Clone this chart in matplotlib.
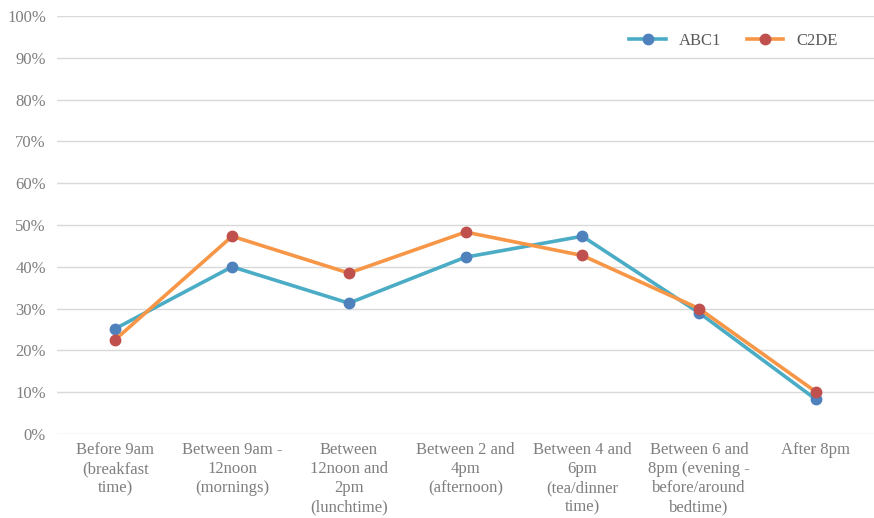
import matplotlib.pyplot as plt
from matplotlib.ticker import PercentFormatter

categories = [
    "Before 9am\n(breakfast\ntime)",
    "Between 9am -\n12noon\n(mornings)",
    "Between\n12noon and\n2pm\n(lunchtime)",
    "Between 2 and\n4pm\n(afternoon)",
    "Between 4 and\n6pm\n(tea/dinner\ntime)",
    "Between 6 and\n8pm (evening -\nbefore/around\nbedtime)",
    "After 8pm",
]
abc1 = [25.2, 40.0, 31.3, 42.3, 47.3, 29.0, 8.3]
c2de = [22.6, 47.3, 38.5, 48.3, 42.7, 30.0, 10.1]

plt.rcParams['font.family'] = ['Liberation Serif', 'DejaVu Serif']

fig = plt.figure(figsize=(8.74, 5.18), dpi=100)
ax = fig.add_axes([0.0652, 0.1622, 0.935, 0.807])

x = list(range(len(categories)))
ax.plot(x, abc1, color='#4BACC6', linewidth=2.6, marker='o', markersize=7.5,
        markerfacecolor='#4F81BD', markeredgecolor='#4F81BD', label='ABC1', zorder=3)
ax.plot(x, c2de, color='#F79646', linewidth=2.6, marker='o', markersize=7.5,
        markerfacecolor='#C0504D', markeredgecolor='#C0504D', label='C2DE', zorder=4)

ax.set_xlim(-0.5, len(categories) - 0.5)
ax.set_ylim(0, 100)
ax.set_yticks(range(0, 101, 10))
ax.yaxis.set_major_formatter(PercentFormatter(decimals=0))
ax.set_xticks(x)
ax.set_xticklabels(categories, linespacing=1.25)

ax.grid(axis='y', color='#D9D9D9', linewidth=1)
ax.set_axisbelow(True)
for s in ax.spines.values():
    s.set_visible(False)
ax.tick_params(axis='both', length=0, labelsize=12, labelcolor='#7F7F7F')
ax.tick_params(axis='x', pad=6)
ax.tick_params(axis='y', pad=8)

leg = ax.legend(loc='upper right', bbox_to_anchor=(0.974, 0.995), ncol=2, frameon=False,
                fontsize=12, handlelength=2.2, columnspacing=1.5)
for t in leg.get_texts():
    t.set_color('#595959')

fig.savefig('out.png', dpi=100)
